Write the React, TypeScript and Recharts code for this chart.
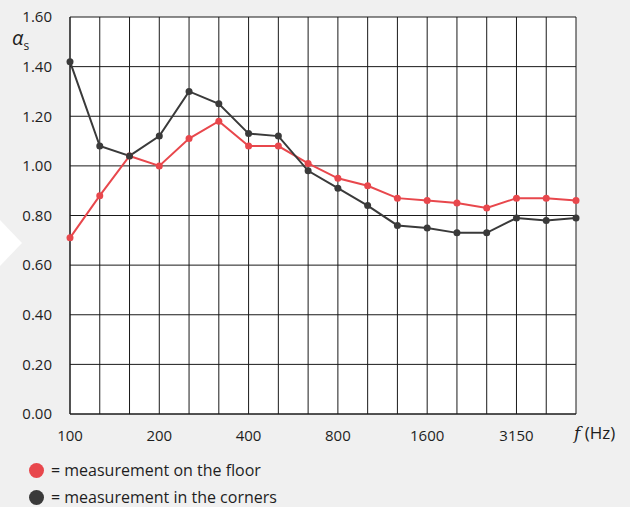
import React from 'react';
import { LineChart, Line, XAxis, YAxis, CartesianGrid } from 'recharts';

// one-third octave band centre frequencies (Hz)
const frequencies = [
  '100', '125', '160', '200', '250', '315', '400', '500', '630',
  '800', '1000', '1250', '1600', '2000', '2500', '3150', '4000', '5000',
];
const floorValues = [
  0.71, 0.88, 1.04, 1.0, 1.11, 1.18, 1.08, 1.08, 1.01,
  0.95, 0.92, 0.87, 0.86, 0.85, 0.83, 0.87, 0.87, 0.86,
];
const cornerValues = [
  1.42, 1.08, 1.04, 1.12, 1.3, 1.25, 1.13, 1.12, 0.98,
  0.91, 0.84, 0.76, 0.75, 0.73, 0.73, 0.79, 0.78, 0.79,
];
const labelledFrequencies = ['100', '200', '400', '800', '1600', '3150'];
const yTicks = [0, 0.2, 0.4, 0.6, 0.8, 1.0, 1.2, 1.4, 1.6];

const FLOOR_COLOR = '#e8474c';
const CORNER_COLOR = '#3a3a3a';
const TEXT_COLOR = '#1e1e1e';
const FONT = '"Open Sans", "Noto Sans", sans-serif';

const data = frequencies.map((f, i) => ({
  f,
  floor: floorValues[i],
  corners: cornerValues[i],
}));

const LegendRow: React.FC<{ color: string; text: string; top: number }> = ({ color, text, top }) => (
  <div style={{ position: 'absolute', left: 29, top, display: 'flex', alignItems: 'center' }}>
    <span
      style={{
        width: 15,
        height: 15,
        borderRadius: '50%',
        background: color,
        display: 'inline-block',
        marginRight: 7,
      }}
    />
    <span style={{ fontSize: 16, color: TEXT_COLOR }}>{text}</span>
  </div>
);

export default function App() {
  return (
    <div
      style={{
        position: 'absolute',
        left: 0,
        top: 0,
        width: 630,
        height: 507,
        background: '#f0f0f0',
        fontFamily: FONT,
        overflow: 'hidden',
      }}
    >
      {/* white chevron on the left edge */}
      <svg width={30} height={80} style={{ position: 'absolute', left: 0, top: 205 }}>
        <polygon points="0,15 22,38 0,61" fill="#ffffff" />
      </svg>

      <LineChart
        width={630}
        height={507}
        data={data}
        margin={{ top: 17, right: 54, left: 0, bottom: 0 }}
        style={{ position: 'absolute', left: 0, top: 0 }}
      >
        <CartesianGrid stroke="#1a1a1a" strokeWidth={1} fill="#ffffff" fillOpacity={1} />
        <XAxis
          dataKey="f"
          interval={0}
          height={93}
          tickLine={false}
          tickMargin={10}
          axisLine={{ stroke: '#1a1a1a' }}
          tick={{ fontSize: 15, fill: TEXT_COLOR, fontFamily: FONT }}
          tickFormatter={(v: string) => (labelledFrequencies.includes(v) ? v : '')}
        />
        <YAxis
          width={70}
          domain={[0, 1.6]}
          ticks={yTicks}
          tickLine={false}
          tickMargin={12}
          axisLine={{ stroke: '#1a1a1a' }}
          tick={{ fontSize: 15, fill: TEXT_COLOR, fontFamily: FONT }}
          tickFormatter={(v: number) => v.toFixed(2)}
        />
        <Line
          type="linear"
          dataKey="floor"
          stroke={FLOOR_COLOR}
          strokeWidth={2}
          dot={{ r: 3.5, fill: FLOOR_COLOR, stroke: FLOOR_COLOR, strokeWidth: 0 }}
          isAnimationActive={false}
        />
        <Line
          type="linear"
          dataKey="corners"
          stroke={CORNER_COLOR}
          strokeWidth={2}
          dot={{ r: 3.5, fill: CORNER_COLOR, stroke: CORNER_COLOR, strokeWidth: 0 }}
          isAnimationActive={false}
        />
      </LineChart>

      {/* y axis label */}
      <div style={{ position: 'absolute', left: 12, top: 24, color: TEXT_COLOR, fontSize: 20 }}>
        <span style={{ fontStyle: 'italic' }}>α</span>
        <sub style={{ fontSize: 12, verticalAlign: 'baseline', position: 'relative', top: 5 }}>s</sub>
      </div>

      {/* x axis label */}
      <div style={{ position: 'absolute', left: 574, top: 421, color: TEXT_COLOR, fontSize: 17 }}>
        <span style={{ fontStyle: 'italic', fontFamily: '"DejaVu Serif", serif' }}>f</span>
        <span> (Hz)</span>
      </div>

      <LegendRow color={FLOOR_COLOR} text="= measurement on the floor" top={459} />
      <LegendRow color={CORNER_COLOR} text="= measurement in the corners" top={486} />
    </div>
  );
}
